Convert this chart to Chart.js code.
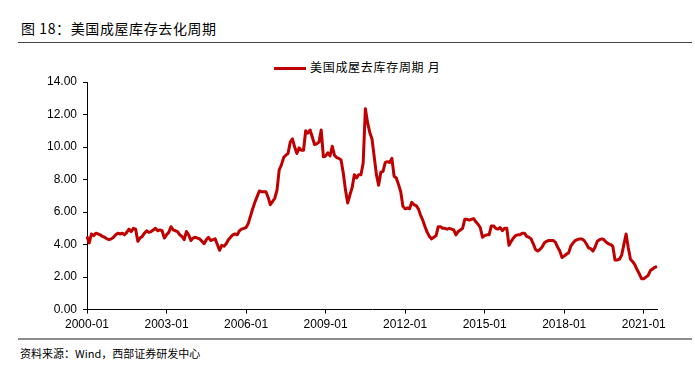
<!DOCTYPE html>
<html>
<head>
<meta charset="utf-8">
<script src="https://cdn.jsdelivr.net/npm/chart.js@4.4.0/dist/chart.umd.min.js"></script>
<style>
  body { margin: 0; background: #fff; width: 695px; height: 366px; position: relative; overflow: hidden; font-family: "Noto Sans CJK SC", sans-serif; color: #000; }
  #title { position: absolute; left: 21px; top: 21px; font-size: 14px; line-height: 14px; letter-spacing: 0.6px; }
  #rule1 { position: absolute; left: 18px; top: 42px; width: 674px; height: 1px; background: #444; }
  #rule2 { position: absolute; left: 18px; top: 338px; width: 674px; height: 2px; background: #8c8c8c; }
  #source { position: absolute; left: 20px; top: 348px; font-size: 11px; line-height: 11px; }
  #legend { position: absolute; left: 274px; top: 60px; height: 14px; font-size: 12px; line-height: 14px; letter-spacing: 0.7px; white-space: nowrap; }
  #legend span.ln { display: inline-block; width: 32px; height: 3px; background: #C00000; vertical-align: middle; margin-right: 4px; }
  #wrap { position: absolute; left: 0; top: 50px; width: 695px; height: 287px; }
</style>
</head>
<body>
<div id="title">图 18：美国成屋库存去化周期</div>
<div id="rule1"></div>
<div id="legend"><span class="ln"></span>美国成屋去库存周期 月</div>
<div id="wrap"><canvas id="supply"></canvas></div>
<div id="rule2"></div>
<div id="source">资料来源：Wind，西部证券研发中心</div>

<script>
// months 2000-01 .. 2021-07
var months = [];
for (var y = 2000; y <= 2021; y++) {
    for (var m = 1; m <= 12; m++) {
        if (y === 2021 && m > 7) break;
        months.push(y + '-' + (m < 10 ? '0' + m : m));
    }
}

var seriesName = '美国成屋去库存周期 月';

// months of supply
var supply = [
    // 2000
    4.5, 4.1, 4.65, 4.55, 4.7, 4.65, 4.6, 4.5, 4.45, 4.35, 4.3, 4.35,
    // 2001
    4.45, 4.6, 4.7, 4.65, 4.7, 4.6, 4.75, 4.95, 4.8, 5.0, 4.95, 4.2,
    // 2002
    4.4, 4.5, 4.7, 4.85, 4.75, 4.8, 4.9, 5.0, 4.85, 4.9, 4.85, 4.4,
    // 2003
    4.6, 4.75, 5.1, 4.9, 4.85, 4.8, 4.6, 4.5, 4.3, 4.8, 4.6, 4.25,
    // 2004
    4.4, 4.45, 4.4, 4.35, 4.2, 4.05, 4.3, 4.45, 4.25, 4.3, 4.35, 4.0,
    // 2005
    3.65, 3.95, 3.9, 4.05, 4.3, 4.45, 4.6, 4.65, 4.6, 4.85, 4.95, 5.0,
    // 2006
    5.05, 5.3, 5.75, 6.2, 6.6, 6.95, 7.3, 7.25, 7.25, 7.25, 6.9, 6.45,
    // 2007
    6.65, 6.85, 7.35, 8.6, 8.9, 9.35, 9.5, 9.6, 10.3, 10.5, 10.0, 9.6,
    // 2008
    9.95, 9.8, 9.8, 11.0, 10.85, 11.05, 10.6, 10.15, 10.2, 10.3, 11.05, 9.4,
    // 2009
    9.45, 9.65, 9.45, 10.05, 9.5, 9.35, 9.3, 9.2, 8.4, 7.35, 6.56, 7.05,
    // 2010
    7.5, 8.3, 8.1, 8.3, 8.3, 9.0, 12.35, 11.5, 10.9, 10.5, 9.4, 8.3,
    // 2011
    7.65, 8.45, 8.5, 9.05, 9.1, 9.05, 9.3, 8.2, 8.1, 7.7, 7.25, 6.35,
    // 2012
    6.2, 6.25, 6.2, 6.6, 6.45, 6.4, 6.2, 5.8, 5.5, 5.1, 4.75, 4.5,
    // 2013
    4.35, 4.45, 4.55, 5.1, 5.1, 5.0, 5.0, 4.95, 5.0, 4.95, 4.9, 4.6,
    // 2014
    4.8, 4.9, 5.0, 5.55, 5.55, 5.5, 5.55, 5.6, 5.4, 5.25, 5.05, 4.45,
    // 2015
    4.55, 4.6, 4.6, 5.15, 5.15, 5.0, 4.95, 5.05, 4.85, 5.0, 5.0, 3.95,
    // 2016
    4.2, 4.4, 4.55, 4.6, 4.6, 4.7, 4.7, 4.5, 4.45, 4.35, 4.05, 3.7,
    // 2017
    3.6, 3.7, 3.85, 4.1, 4.2, 4.25, 4.25, 4.25, 4.15, 3.85, 3.6, 3.2,
    // 2018
    3.3, 3.4, 3.5, 3.9, 4.1, 4.25, 4.3, 4.35, 4.35, 4.25, 4.05, 3.8,
    // 2019
    3.75, 3.6, 3.85, 4.2, 4.3, 4.35, 4.3, 4.15, 4.05, 4.0, 3.9, 3.05,
    // 2020
    3.05, 3.1, 3.35, 4.0, 4.65, 3.8, 3.1, 2.95, 2.75, 2.45, 2.2, 1.9,
    // 2021
    1.9, 2.0, 2.1, 2.4, 2.5, 2.6, 2.65
];

var yTicks = [0, 2, 4, 6, 8, 10, 12, 14];
var labelEvery = 36;

var ctx = document.getElementById('supply').getContext('2d');
var myChart = new Chart(ctx, {
    type: 'line',
    data: {
        labels: months,
        datasets: [{
            label: seriesName,
            data: supply,
            borderColor: '#C00000',
            borderWidth: 3,
            pointRadius: 0,
            tension: 0,
            borderJoinStyle: 'round'
        }]
    },
    options: {
        responsive: true,
        maintainAspectRatio: false,
        animation: false,
        layout: { padding: { left: 0, right: 38, top: 32, bottom: 1 } },
        plugins: {
            legend: { display: false },
            tooltip: { enabled: false }
        },
        scales: {
            x: {
                type: 'category',
                offset: false,
                afterBuildTicks: function (scale) {
                    scale.ticks = scale.ticks.filter(function (t) { return t.value % labelEvery === 0; });
                },
                grid: { display: true, drawOnChartArea: false, drawTicks: true, tickLength: 4, color: '#000', offset: false },
                border: { display: true, color: '#000', width: 1 },
                ticks: {
                    autoSkip: false,
                    maxRotation: 0,
                    padding: 4,
                    color: '#000',
                    font: { family: 'Liberation Sans, Arial, sans-serif', size: 12 }
                }
            },
            y: {
                min: 0,
                max: 14,
                afterFit: function (scale) { scale.width = 87; },
                afterBuildTicks: function (scale) {
                    scale.ticks = yTicks.map(function (v) { return { value: v }; });
                },
                grid: { display: true, drawOnChartArea: false, drawTicks: true, tickLength: 4, color: '#000' },
                border: { display: true, color: '#000', width: 1 },
                ticks: {
                    padding: 6,
                    color: '#000',
                    font: { family: 'Liberation Sans, Arial, sans-serif', size: 12 },
                    callback: function (v) { return Number(v).toFixed(2); }
                }
            }
        }
    }
});
</script>
</body>
</html>
